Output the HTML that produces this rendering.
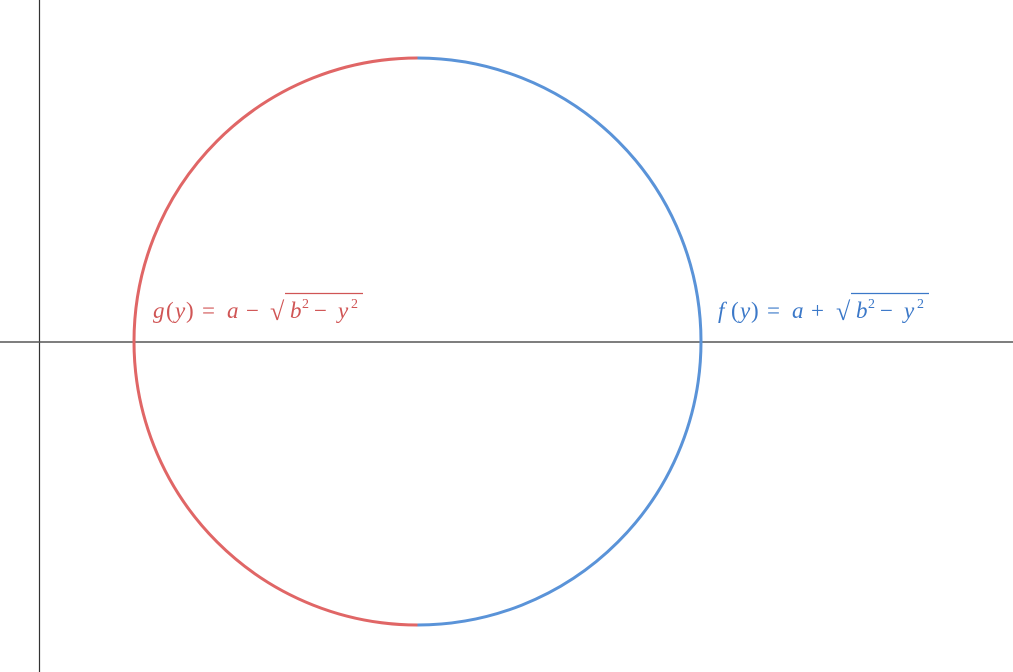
<!DOCTYPE html>
<html><head><style>html,body{margin:0;padding:0;background:#fff;width:1013px;height:672px;overflow:hidden}</style></head>
<body>
<svg width="1013" height="672" viewBox="0 0 1013 672" xmlns="http://www.w3.org/2000/svg">
<line x1="39.5" y1="0" x2="39.5" y2="672" stroke="#333" stroke-width="1.2"/>
<line x1="0" y1="342" x2="1013" y2="342" stroke="#555" stroke-width="1.4"/>
<path d="M417.5 58 A283.5 283.5 0 0 0 417.5 625" fill="none" stroke="#e06666" stroke-width="3"/>
<path d="M417.5 58 A283.5 283.5 0 0 1 417.5 625" fill="none" stroke="#5a93d8" stroke-width="3"/>
<g font-family="Liberation Serif, serif" font-size="23" fill="#d05555">
<text x="153" y="318" font-style="italic">g</text>
<text x="166" y="318">(</text>
<text x="175" y="318" font-style="italic">y</text>
<text x="186" y="318">)</text>
<text x="202" y="318">=</text>
<text x="227" y="318" font-style="italic">a</text>
<text x="246" y="318">−</text>
<text x="270" y="320" font-size="26">√</text>
<text x="290" y="318" font-style="italic">b</text>
<text x="302" y="308" font-size="14">2</text>
<text x="314" y="318">−</text>
<text x="338" y="318" font-style="italic">y</text>
<text x="351" y="308" font-size="14">2</text>
<line x1="285" y1="293.5" x2="363" y2="293.5" stroke="#d05555" stroke-width="1.2"/>
</g>
<g font-family="Liberation Serif, serif" font-size="23" fill="#3b78c8">
<text x="718" y="318" font-style="italic">f</text>
<text x="731" y="318">(</text>
<text x="740" y="318" font-style="italic">y</text>
<text x="751" y="318">)</text>
<text x="767" y="318">=</text>
<text x="792" y="318" font-style="italic">a</text>
<text x="811" y="318">+</text>
<text x="836" y="320" font-size="26">√</text>
<text x="856" y="318" font-style="italic">b</text>
<text x="868" y="308" font-size="14">2</text>
<text x="880" y="318">−</text>
<text x="904" y="318" font-style="italic">y</text>
<text x="917" y="308" font-size="14">2</text>
<line x1="851" y1="293.5" x2="929" y2="293.5" stroke="#3b78c8" stroke-width="1.2"/>
</g>
</svg>
</body></html>
